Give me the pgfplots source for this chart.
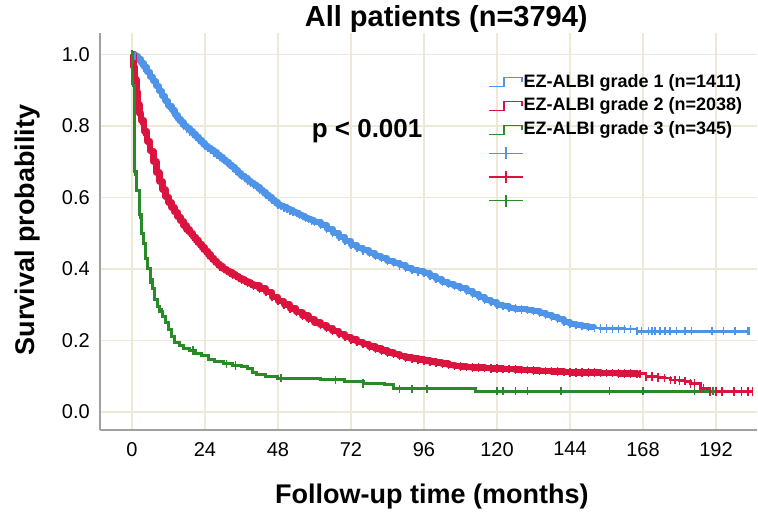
\documentclass[border=0pt]{standalone}
\usepackage{pgfplots}
\pgfplotsset{compat=1.18}
\usepackage{fontspec}
\setmainfont{Liberation Sans}
\definecolor{cblue}{RGB}{78,148,232}
\definecolor{cred}{RGB}{218,20,62}
\definecolor{cgreen}{RGB}{40,138,40}
\definecolor{cgrid}{RGB}{238,233,214}
\definecolor{caxis}{RGB}{160,160,160}
\pgfplotsset{
 legstepA/.style={legend image code/.code={\draw[cblue,line width=1.3pt] (0pt,-4.5pt)--(15pt,-4.5pt)--(15pt,4.5pt)--(33pt,4.5pt)--(33pt,0pt);}},
 legstepB/.style={legend image code/.code={\draw[cred,line width=1.3pt] (0pt,-4.5pt)--(15pt,-4.5pt)--(15pt,4.5pt)--(33pt,4.5pt)--(33pt,0pt);}},
 legstepC/.style={legend image code/.code={\draw[cgreen,line width=1.3pt] (0pt,-4.5pt)--(15pt,-4.5pt)--(15pt,4.5pt)--(33pt,4.5pt)--(33pt,0pt);}},
 legcensA/.style={legend image code/.code={\draw[cblue,line width=1.3pt] (0pt,0pt)--(34pt,0pt) (17pt,-6pt)--(17pt,6pt);}},
 legcensB/.style={legend image code/.code={\draw[cred,line width=1.3pt] (0pt,0pt)--(34pt,0pt) (17pt,-6pt)--(17pt,6pt);}},
 legcensC/.style={legend image code/.code={\draw[cgreen,line width=1.3pt] (0pt,0pt)--(34pt,0pt) (17pt,-6pt)--(17pt,6pt);}},
}
\pgfplotstableread{
t s
0 1.000
1 0.996
2 0.988
3 0.976
4 0.964
5 0.951
6 0.938
7 0.925
8 0.911
9 0.897
10 0.884
11 0.870
12 0.857
13 0.844
14 0.831
15 0.820
16 0.810
17 0.801
18 0.793
19 0.785
20 0.778
21 0.770
22 0.762
23 0.753
24 0.745
25 0.739
26 0.732
27 0.726
28 0.720
29 0.713
30 0.706
31 0.699
32 0.692
33 0.684
34 0.676
35 0.668
36 0.660
37 0.654
38 0.647
39 0.641
40 0.635
41 0.629
42 0.622
43 0.615
44 0.608
45 0.601
46 0.594
47 0.587
48 0.580
49 0.576
50 0.572
51 0.568
52 0.564
53 0.560
54 0.556
55 0.552
56 0.548
57 0.544
58 0.540
59 0.536
60 0.532
62 0.523
64 0.513
66 0.502
68 0.490
70 0.479
72 0.468
74 0.460
76 0.452
78 0.445
80 0.437
82 0.430
84 0.423
86 0.416
88 0.410
90 0.404
92 0.398
94 0.393
96 0.388
98 0.380
100 0.372
102 0.364
104 0.358
106 0.352
108 0.346
110 0.338
112 0.330
114 0.322
116 0.314
118 0.307
120 0.300
122 0.296
124 0.292
126 0.289
128 0.287
130 0.285
132 0.282
134 0.278
136 0.272
138 0.266
140 0.260
142 0.252
144 0.247
146 0.244
148 0.241
150 0.237
152 0.235
154 0.234
156 0.234
158 0.233
160 0.233
162 0.232
164 0.232
166 0.226
167.6 0.226
169.8 0.226
171 0.226
172 0.226
173.6 0.226
175.3 0.226
176.9 0.226
179.1 0.226
181.8 0.226
184 0.226
190.7 0.226
194.4 0.226
198.2 0.226
202.5 0.226
203 0.226
}\gradeA
\pgfplotstableread{
t s
0 1.000
0.5 0.965
1 0.930
1.5 0.895
2 0.860
2.5 0.835
3 0.815
4 0.785
5 0.757
6 0.730
7 0.700
8 0.670
9 0.645
10 0.622
11 0.602
12 0.586
13 0.572
14 0.559
15 0.546
16 0.534
17 0.522
18 0.510
19 0.500
20 0.490
21 0.480
22 0.470
23 0.460
24 0.450
25 0.440
26 0.431
27 0.422
28 0.414
29 0.407
30 0.400
31 0.395
32 0.390
33 0.385
34 0.380
35 0.375
36 0.370
37 0.366
38 0.362
39 0.358
40 0.354
42 0.345
44 0.335
46 0.322
48 0.310
50 0.300
52 0.290
54 0.280
56 0.270
58 0.260
60 0.251
62 0.243
64 0.235
66 0.226
68 0.218
70 0.210
72 0.203
74 0.196
76 0.190
78 0.183
80 0.177
82 0.172
84 0.167
86 0.162
88 0.157
90 0.153
92 0.150
94 0.147
96 0.144
98 0.141
100 0.138
102 0.135
104 0.132
106 0.129
108 0.127
110 0.126
112 0.125
114 0.124
116 0.123
118 0.122
120 0.122
122 0.121
124 0.120
126 0.119
128 0.118
130 0.117
132 0.116
134 0.115
136 0.115
138 0.114
140 0.113
142 0.112
144 0.111
146 0.111
148 0.110
150 0.110
152 0.110
154 0.109
156 0.109
158 0.109
160 0.108
162 0.108
164 0.108
166 0.107
167 0.107
169 0.099
171 0.099
173 0.097
175 0.095
177 0.090
178.6 0.090
180 0.088
181.8 0.086
183.6 0.080
185 0.080
187 0.066
188 0.066
190 0.057
192 0.057
194 0.057
198 0.057
200.5 0.057
202.5 0.057
204 0.057
}\gradeB
\pgfplotstableread{
t s
0 1.000
0.3 0.920
0.8 0.672
1.5 0.620
2.5 0.552
3.2 0.500
3.8 0.470
4.5 0.430
5.2 0.400
6.0 0.370
6.8 0.345
7.5 0.315
8.3 0.295
9.0 0.280
10.0 0.268
11.0 0.250
12.0 0.230
13.0 0.210
14.0 0.195
15.5 0.185
17.0 0.178
19.0 0.172
21.0 0.165
23.0 0.157
25.0 0.148
27.0 0.140
30.0 0.135
33.0 0.130
36.0 0.128
38.0 0.122
39.5 0.110
41.0 0.104
44.0 0.100
48.0 0.095
55.0 0.093
62.0 0.090
70.0 0.085
76.0 0.080
83.0 0.077
86.0 0.065
112.0 0.065
113.0 0.058
192.0 0.058
}\gradeC
\pgfplotstableread{
t s
0 1.000
0.3 0.920
0.8 0.672
2.5 0.552
5.9 0.370
8.7 0.295
9.8 0.280
20 0.172
31 0.135
34 0.130
49 0.095
67 0.090
76 0.080
88 0.065
92 0.065
97 0.065
120 0.058
122 0.058
126 0.058
130 0.058
141 0.058
157 0.058
168 0.058
185 0.058
191 0.058
}\censC
\begin{document}
\begin{tikzpicture}
\useasboundingbox (0,0) rectangle (758pt,517pt);
\begin{axis}[
 at={(100pt,87pt)}, anchor=south west,
 scale only axis, width=657pt, height=397pt,
 xmin=-10.52, xmax=205.5, ymin=-0.0503, ymax=1.060,
 xtick={0,24,48,72,96,120,144,168,192},
 ytick={0,0.2,0.4,0.6,0.8,1.0},
 /pgf/number format/assume math mode=true,
 yticklabel style={/pgf/number format/fixed, /pgf/number format/fixed zerofill, /pgf/number format/precision=1, anchor=east, xshift=-10pt},
 tick label style={font=\fontsize{20}{22}\selectfont, inner sep=0pt},
 xticklabel style={anchor=north, yshift=-12pt},
 major tick length=0pt,
 axis x line*=bottom, axis y line*=left,
 axis line style={caxis, line width=1.5pt, -},
 grid=major, major grid style={cgrid, line width=1.2pt},
 title={All patients (n=3794)},
 title style={at={(axis description cs:0.527,1.019)}, anchor=center, font=\bfseries\fontsize{29}{32}\selectfont},
 xlabel={Follow-up time (months)},
 xlabel style={at={(axis description cs:0.505,-0.1675)}, anchor=center, font=\bfseries\fontsize{27}{30}\selectfont},
 ylabel={Survival probability},
 ylabel style={at={(axis description cs:-0.110,0.504)}, anchor=center, font=\bfseries\fontsize{27}{30}\selectfont},
 legend style={at={(axis description cs:0.5906,0.899)}, anchor=north west, draw=none, fill=none, inner sep=0pt, row sep=5.7pt,
   font=\bfseries\fontsize{18}{20}\selectfont, nodes={inner sep=0pt, text height=14pt, text depth=4pt}},
 legend cell align=left,
]
% blue: dense censoring band, then line with censor marks
\addplot[forget plot, const plot, cblue, line width=6pt, line join=round, restrict x to domain=0:152] table[x=t,y=s] {\gradeA};
\addplot[forget plot, const plot, cblue, line width=2.6pt, mark=|, mark size=4.2pt, mark options={line width=1.4pt, solid}] table[x=t,y=s] {\gradeA};
% red
\addplot[forget plot, const plot, cred, line width=6.5pt, line join=round, restrict x to domain=0:167] table[x=t,y=s] {\gradeB};
\addplot[forget plot, const plot, cred, line width=2.6pt, mark=|, mark size=4.2pt, mark options={line width=1.4pt, solid}] table[x=t,y=s] {\gradeB};
% green
\addplot[forget plot, const plot, cgreen, line width=3pt] table[x=t,y=s] {\gradeC};
\addplot[forget plot, only marks, cgreen, mark=|, mark size=4.2pt, mark options={line width=1.4pt}] table[x=t,y=s] {\censC};
\node[font=\bfseries\fontsize{26}{28}\selectfont] at (axis cs:77.3,0.786) {p < 0.001};
\addlegendimage{legstepA}\addlegendentry{EZ-ALBI grade 1 (n=1411)}
\addlegendimage{legstepB}\addlegendentry{EZ-ALBI grade 2 (n=2038)}
\addlegendimage{legstepC}\addlegendentry{EZ-ALBI grade 3 (n=345)}
\addlegendimage{legcensA}\addlegendentry{}
\addlegendimage{legcensB}\addlegendentry{}
\addlegendimage{legcensC}\addlegendentry{}
\end{axis}
\end{tikzpicture}
\end{document}
